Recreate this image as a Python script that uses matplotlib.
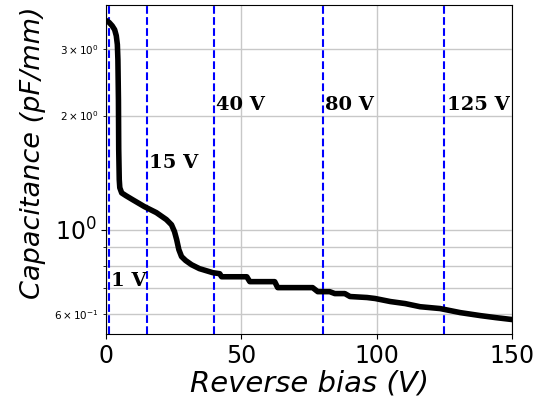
import matplotlib
matplotlib.use("Agg")
import matplotlib.pyplot as plt

# Reverse bias (V) and capacitance (pF/mm)
bias = [0.2, 1.2, 2.3, 3.2, 3.8, 4.2, 4.4, 4.6, 4.7, 4.9, 5.1, 5.8, 7.3,
        9.8, 14.2, 18.6, 22.3, 24.2, 25.3, 26.1, 26.9, 27.9, 29.4, 31.6,
        34.5, 39.4, 42.0, 42.7, 52.0, 53.1, 62.3, 63.4, 76.3, 78.2, 82.6,
        84.5, 88.2, 90.1, 96.4, 99.4, 105.0, 110.5, 116.0, 123.4, 130.8,
        138.3, 143.8, 150.0]
cap = [3.56, 3.52, 3.45, 3.37, 3.25, 3.08, 2.81, 2.20, 1.63, 1.355, 1.29,
       1.25, 1.23, 1.20, 1.15, 1.109, 1.063, 1.03, 0.988, 0.941, 0.886,
       0.849, 0.829, 0.808, 0.789, 0.770, 0.765, 0.751, 0.751, 0.729, 0.729,
       0.703, 0.703, 0.686, 0.686, 0.678, 0.678, 0.666, 0.662, 0.658, 0.646,
       0.638, 0.626, 0.619, 0.604, 0.593, 0.586, 0.579]

marker_v = [1, 15, 40, 80, 125]
marker_labels = ["1 V", "15 V", "40 V", "80 V", "125 V"]
marker_text_y = [0.73, 1.50, 2.13, 2.13, 2.13]

fig = plt.figure(figsize=(5.38, 4.04), dpi=100)
ax = fig.add_axes([0.197, 0.173, 0.755, 0.815])

ax.plot(bias, cap, color="black", linewidth=4, solid_capstyle="round",
        solid_joinstyle="round", zorder=3)
for v, lab, ty in zip(marker_v, marker_labels, marker_text_y):
    ax.axvline(v, color="blue", linestyle="--", linewidth=1.5, zorder=2)
    ax.text(v + 0.8, ty, lab, fontsize=14, fontweight="bold",
            family="DejaVu Serif", va="center", ha="left", zorder=4)

ax.set_yscale("log")
ax.set_xlim(0, 150)
ax.set_ylim(0.53, 3.92)
ax.set_xticks([0, 50, 100, 150])
ax.grid(True, which="both", color="#c8c8c8", linewidth=1)
ax.set_axisbelow(True)
ax.tick_params(axis="both", which="major", labelsize=17)
ax.tick_params(axis="y", which="minor", labelsize=7.5)

ax.set_xlabel("Reverse bias (V)", fontsize=21, fontstyle="italic", labelpad=1)
ax.set_ylabel("Capacitance (pF/mm)", fontsize=19.5, fontstyle="italic")
ax.yaxis.set_label_coords(-0.148, 0.55)

fig.savefig("out.png", dpi=100)
